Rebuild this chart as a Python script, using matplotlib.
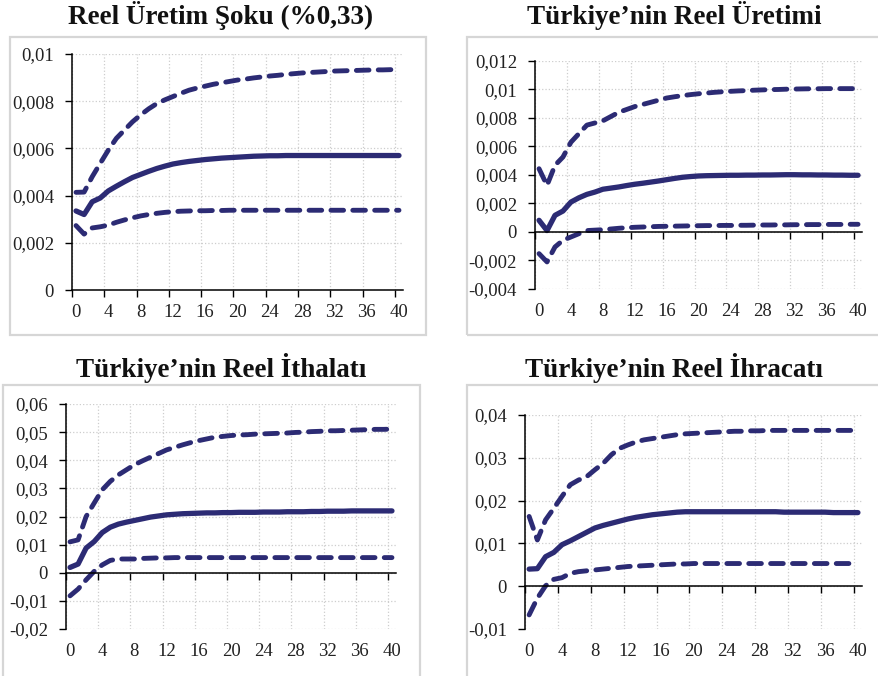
import numpy as np
import matplotlib
matplotlib.use("Agg")
import matplotlib.pyplot as plt
from matplotlib.patches import Rectangle
from matplotlib.ticker import FuncFormatter

plt.rcParams['font.family'] = ['Liberation Serif', 'DejaVu Serif']

periods = np.arange(41)

# Reel Üretim Şoku
uretim_soku = [0.00335, 0.0032, 0.00374, 0.0039, 0.0042, 0.0044, 0.00459, 0.00477, 0.0049, 0.00503,
               0.00515, 0.00525, 0.00534, 0.0054, 0.00545, 0.00549, 0.00553, 0.00556, 0.00559, 0.00561,
               0.00563, 0.00565, 0.00567, 0.00568, 0.00569, 0.00569, 0.0057, 0.0057, 0.0057, 0.0057,
               0.0057, 0.0057, 0.0057, 0.0057, 0.0057, 0.0057, 0.0057, 0.0057, 0.0057, 0.0057, 0.0057]
uretim_soku_ust = [0.00414, 0.00415, 0.0048, 0.00537, 0.00593, 0.00643, 0.00678, 0.00713, 0.00742, 0.00768,
                   0.0079, 0.00806, 0.0082, 0.00834, 0.00847, 0.00856, 0.00864, 0.00872, 0.00878, 0.00884,
                   0.0089, 0.00894, 0.00899, 0.00903, 0.00907, 0.0091, 0.00914, 0.00917, 0.0092, 0.00922,
                   0.00924, 0.00926, 0.00928, 0.00929, 0.0093, 0.00931, 0.00932, 0.00933, 0.00933, 0.00934, 0.00934]
uretim_soku_alt = [0.00273, 0.00237, 0.00263, 0.00268, 0.00275, 0.00287, 0.00297, 0.00306, 0.00314, 0.0032,
                   0.00325, 0.00329, 0.00332, 0.00334, 0.00335, 0.00336, 0.00336, 0.00337, 0.00337, 0.00338,
                   0.00338, 0.00338, 0.00338, 0.00338, 0.00338, 0.00338, 0.00338, 0.00338, 0.00338, 0.00338,
                   0.00338, 0.00338, 0.00338, 0.00338, 0.00338, 0.00338, 0.00338, 0.00338, 0.00338, 0.00338, 0.00338]

# Türkiye'nin Reel Üretimi
tr_uretim = [0.00082, 0.0001, 0.00117, 0.00147, 0.0021, 0.0024, 0.00264, 0.0028, 0.003, 0.00308,
             0.00316, 0.00326, 0.00335, 0.00342, 0.0035, 0.00358, 0.00367, 0.00376, 0.00384, 0.00389,
             0.00393, 0.00395, 0.00396, 0.00397, 0.00398, 0.00398, 0.00399, 0.00399, 0.004, 0.004,
             0.00401, 0.00402, 0.00402, 0.00401, 0.00401, 0.004, 0.004, 0.00399, 0.00399, 0.00398, 0.00398]
tr_uretim_ust = [0.00444, 0.00327, 0.00468, 0.00526, 0.0063, 0.0069, 0.0075, 0.00765, 0.0078, 0.0081,
                 0.0084, 0.0086, 0.0088, 0.00895, 0.0091, 0.00925, 0.0094, 0.00949, 0.00957, 0.00964,
                 0.0097, 0.00975, 0.0098, 0.00984, 0.00987, 0.0099, 0.00992, 0.00995, 0.00997, 0.00999,
                 0.01, 0.01002, 0.01003, 0.01004, 0.01005, 0.01005, 0.01006, 0.01006, 0.01006, 0.01006, 0.01006]
tr_uretim_alt = [-0.00152, -0.0021, -0.00105, -0.00058, -0.00035, -0.00012, 0.0001, 0.00013, 0.00016, 0.00021,
                 0.00026, 0.0003, 0.00033, 0.00035, 0.00037, 0.00039, 0.0004, 0.00041, 0.00042, 0.00043,
                 0.00044, 0.00045, 0.00045, 0.00046, 0.00046, 0.00047, 0.00047, 0.00048, 0.00049, 0.00049,
                 0.0005, 0.0005, 0.00051, 0.00051, 0.00052, 0.00052, 0.00053, 0.00053, 0.00053, 0.00054, 0.00054]

# Türkiye'nin Reel İthalatı
tr_ithalat = [0.0019, 0.0031, 0.0088, 0.0111, 0.0143, 0.0162, 0.0173, 0.018, 0.0186, 0.0192,
              0.0198, 0.0202, 0.0206, 0.0208, 0.021, 0.0211, 0.0212, 0.0213, 0.0213, 0.0214,
              0.0214, 0.0215, 0.0215, 0.0215, 0.0216, 0.0216, 0.0216, 0.0217, 0.0217, 0.0217,
              0.0218, 0.0218, 0.0219, 0.0219, 0.0219, 0.022, 0.022, 0.022, 0.022, 0.022, 0.022]
tr_ithalat_ust = [0.011, 0.0117, 0.02, 0.0248, 0.0295, 0.0325, 0.0348, 0.0366, 0.0384, 0.0398,
                  0.0411, 0.0424, 0.0437, 0.0446, 0.0455, 0.0463, 0.047, 0.0476, 0.0482, 0.0485,
                  0.0488, 0.049, 0.0491, 0.0493, 0.0494, 0.0495, 0.0496, 0.0497, 0.0499, 0.05,
                  0.0502, 0.0503, 0.0505, 0.0505, 0.0506, 0.0507, 0.0508, 0.0509, 0.051, 0.051, 0.0511]
tr_ithalat_alt = [-0.0082, -0.0058, -0.0025, 0.0005, 0.0028, 0.0044, 0.0049, 0.0049, 0.0049, 0.0051,
                  0.0052, 0.0053, 0.0053, 0.0054, 0.0054, 0.0054, 0.0054, 0.0054, 0.0054, 0.0054,
                  0.0054, 0.0054, 0.0054, 0.0054, 0.0054, 0.0054, 0.0054, 0.0054, 0.0054, 0.0054,
                  0.0054, 0.0054, 0.0054, 0.0054, 0.0054, 0.0054, 0.0054, 0.0054, 0.0054, 0.0054, 0.0054]

# Türkiye'nin Reel İhracatı
tr_ihracat = [0.004, 0.0041, 0.0069, 0.0079, 0.0097, 0.0106, 0.0116, 0.0126, 0.0136, 0.0142,
              0.0147, 0.0152, 0.0157, 0.0161, 0.0164, 0.0167, 0.0169, 0.0171, 0.0173, 0.0174,
              0.0174, 0.0174, 0.0174, 0.0174, 0.0174, 0.0174, 0.0174, 0.0174, 0.0174, 0.0174,
              0.0174, 0.0173, 0.0173, 0.0173, 0.0173, 0.0173, 0.0173, 0.0172, 0.0172, 0.0172, 0.0172]
tr_ihracat_ust = [0.0163, 0.0108, 0.0155, 0.0182, 0.021, 0.0237, 0.0248, 0.0256, 0.0272, 0.0287,
                  0.0307, 0.0322, 0.033, 0.0337, 0.0342, 0.0345, 0.0348, 0.0351, 0.0354, 0.0356,
                  0.0357, 0.0358, 0.0359, 0.036, 0.0361, 0.0362, 0.0362, 0.0363, 0.0363, 0.0364,
                  0.0364, 0.0364, 0.0364, 0.0364, 0.0364, 0.0364, 0.0364, 0.0364, 0.0364, 0.0364, 0.0364]
tr_ihracat_alt = [-0.0067, -0.0028, 0.0001, 0.0016, 0.002, 0.003, 0.0034, 0.0036, 0.0038, 0.004,
                  0.0042, 0.0044, 0.0046, 0.0047, 0.0048, 0.0049, 0.005, 0.0051, 0.0052, 0.0052,
                  0.0053, 0.0053, 0.0053, 0.0053, 0.0053, 0.0053, 0.0053, 0.0053, 0.0053, 0.0053,
                  0.0053, 0.0053, 0.0053, 0.0053, 0.0053, 0.0053, 0.0053, 0.0053, 0.0053, 0.0053, 0.0053]

titles = ["Reel Üretim Şoku (%0,33)", "Türkiye\u2019nin Reel Üretimi",
          "Türkiye\u2019nin Reel İthalatı", "Türkiye\u2019nin Reel İhracatı"]
yticks = [np.arange(0, 0.0101, 0.002), np.arange(-0.004, 0.0121, 0.002),
          np.arange(-0.02, 0.061, 0.01), np.arange(-0.01, 0.041, 0.01)]

NAVY = '#2c2b74'

fig = plt.figure(figsize=(8.79, 6.76), dpi=100)

# panel frames (left, bottom, width, height in figure fraction)
boxes = [(0.0114, 0.5044, 0.4733, 0.4408), (0.5313, 0.5044, 0.48, 0.4408),
         (0.0034, -0.01, 0.4744, 0.4405), (0.5313, -0.01, 0.48, 0.4405)]
for b in boxes:
    fig.patches.append(Rectangle((b[0], b[1]), b[2], b[3], transform=fig.transFigure,
                                 fill=False, edgecolor='#d6d6d6', linewidth=1.6))

axes_pos = [(0.0819, 0.571, 0.3766, 0.349), (0.6087, 0.5725, 0.372, 0.3373),
            (0.0751, 0.0695, 0.3754, 0.3328), (0.5973, 0.0695, 0.3834, 0.3166)]
title_pos = [(0.251, 0.977), (0.767, 0.977), (0.252, 0.455), (0.767, 0.455)]

series = [(uretim_soku, uretim_soku_ust, uretim_soku_alt),
          (tr_uretim, tr_uretim_ust, tr_uretim_alt),
          (tr_ithalat, tr_ithalat_ust, tr_ithalat_alt),
          (tr_ihracat, tr_ihracat_ust, tr_ihracat_alt)]


def fmt(v, pos):
    s = ('%.3f' % v).rstrip('0').rstrip('.')
    if s in ('-0', ''):
        s = '0'
    return s.replace('.', ',')


for k in range(4):
    ax = fig.add_axes(axes_pos[k])
    mid, ust, alt = series[k]
    ax.plot(periods, ust, color=NAVY, lw=3.5, dashes=(2.6, 1.9), dash_capstyle='round')
    ax.plot(periods, alt, color=NAVY, lw=3.5, dashes=(2.6, 1.9), dash_capstyle='round')
    ax.plot(periods, mid, color=NAVY, lw=3.8, solid_capstyle='round')

    yt = yticks[k]
    ax.set_ylim(yt[0], yt[-1])
    ax.set_xlim(-0.5, 40.5)
    ax.set_yticks(yt)
    ax.yaxis.set_major_formatter(FuncFormatter(fmt))
    ax.tick_params(axis='y', direction='out', length=5, width=1, pad=8,
                   labelsize=13.5, labelcolor='#222222')

    # category boundaries carry the tick marks and grid, labels sit on categories
    ax.set_xticks(np.arange(-0.5, 40, 4))
    ax.set_xticklabels([])
    ax.tick_params(axis='x', direction='out', length=5, width=1)
    ax.grid(True, color='#cdcdcd', linestyle=':', linewidth=0.9)
    ax.set_axisbelow(True)

    for s in ('top', 'right'):
        ax.spines[s].set_visible(False)
    ax.spines['bottom'].set_position(('data', 0))
    ax.spines['left'].set_linewidth(1.1)
    ax.spines['bottom'].set_linewidth(1.1)

    sec = ax.secondary_xaxis('bottom')
    sec.set_xticks(np.arange(0, 41, 4))
    sec.tick_params(length=0, pad=10, labelsize=13.5, labelcolor='#222222')
    sec.spines['bottom'].set_visible(False)

    fig.text(title_pos[k][0], title_pos[k][1], titles[k], ha='center', va='center',
             fontsize=19.5, fontweight='bold', color='#111111')

fig.savefig('out.png', dpi=100)
plt.close(fig)
